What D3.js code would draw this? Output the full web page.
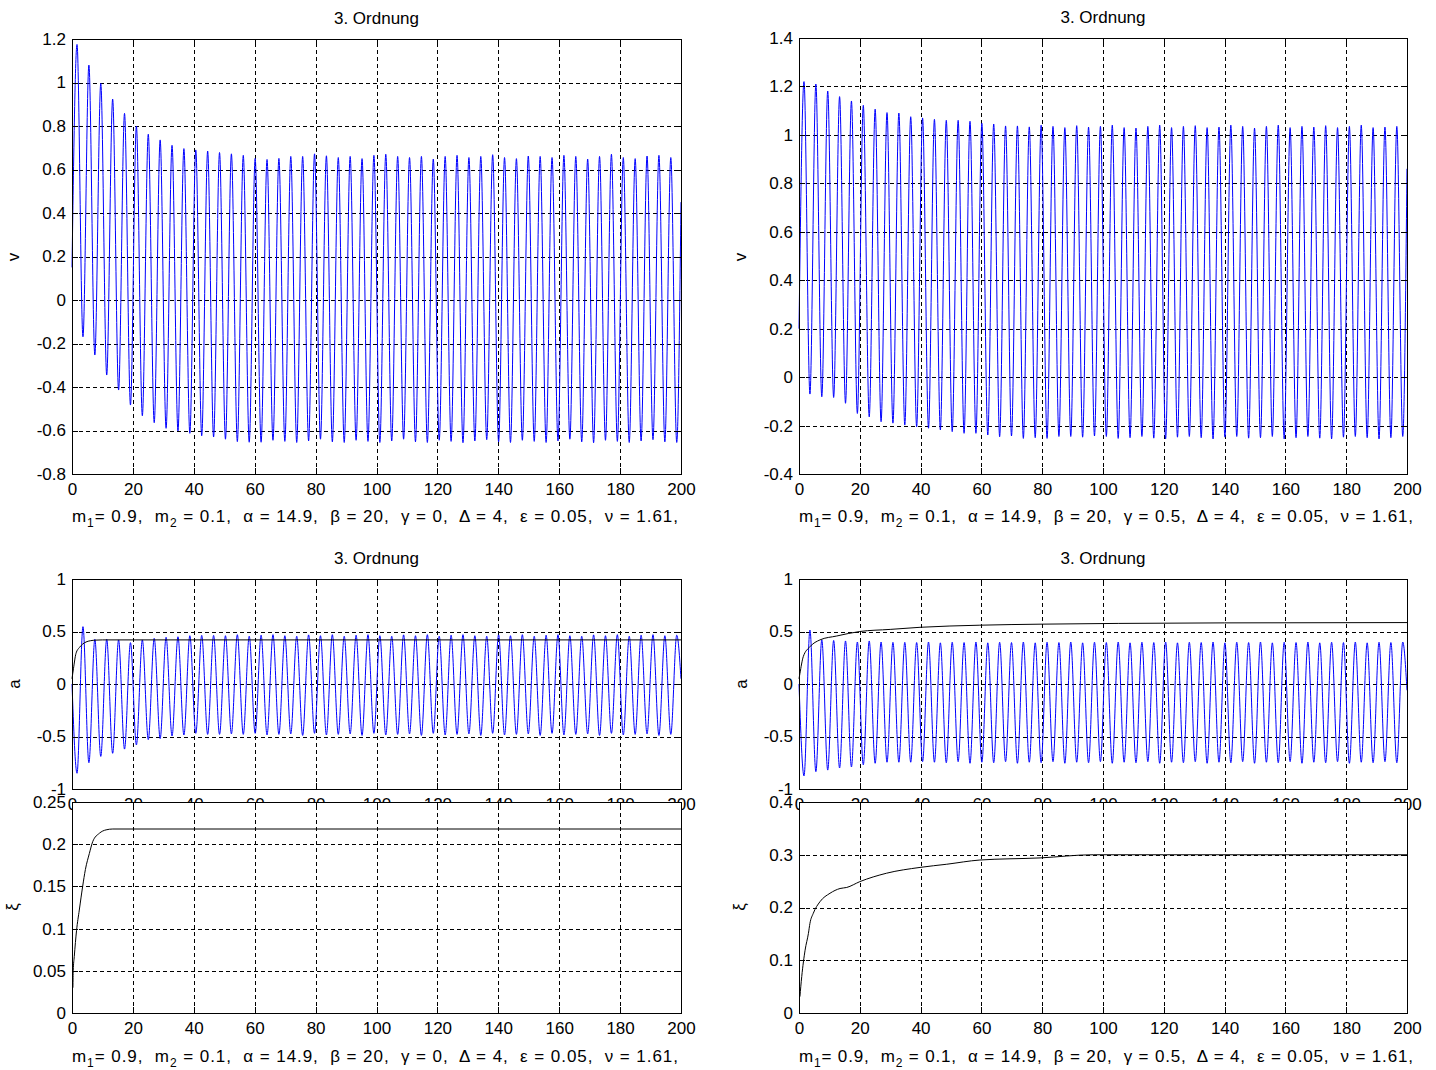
<!DOCTYPE html>
<html>
<head>
<meta charset="utf-8">
<script src="https://cdn.jsdelivr.net/npm/d3@7"></script>
<style>
body { margin: 0; background: #fff; }
svg text { font-family: "Liberation Sans", Arial, sans-serif; fill: #000; }
.grid line { stroke: #000; stroke-dasharray: 4,3; shape-rendering: crispEdges; }
.grid path { display: none; }
.ticks line { stroke: #000; shape-rendering: crispEdges; }
.ticks path { display: none; }
</style>
</head>
<body>
<svg id="chart"></svg>
<script>
//ticks
const xTicks = [0, 20, 40, 60, 80, 100, 120, 140, 160, 180, 200];
const vLeftTicks = [-0.8, -0.6, -0.4, -0.2, 0, 0.2, 0.4, 0.6, 0.8, 1, 1.2];
const vRightTicks = [-0.4, -0.2, 0, 0.2, 0.4, 0.6, 0.8, 1, 1.2, 1.4];
const aTicks = [-1, -0.5, 0, 0.5, 1];
const xiLeftTicks = [0, 0.05, 0.1, 0.15, 0.2, 0.25];
const xiRightTicks = [0, 0.1, 0.2, 0.3, 0.4];

//texts
const titleText = "3. Ordnung";
const gammaValues = ["0", "0.5"];

//times of the extrema of the oscillations
const extremaT = [
    1.65, 3.6, 5.55, 7.5, 9.45, 11.4, 13.35, 15.3, 17.25, 19.2,
    21.15, 23.1, 25.05, 27, 28.95, 30.9, 32.85, 34.8, 36.75, 38.7,
    40.65, 42.6, 44.55, 46.5, 48.45, 50.4, 52.35, 54.3, 56.25, 58.2,
    60.15, 62.1, 64.05, 66, 67.95, 69.9, 71.85, 73.8, 75.75, 77.7,
    79.65, 81.6, 83.55, 85.5, 87.45, 89.4, 91.35, 93.3, 95.25, 97.2,
    99.15, 101.1, 103.05, 105, 106.95, 108.9, 110.85, 112.8, 114.75, 116.7,
    118.65, 120.6, 122.55, 124.5, 126.45, 128.4, 130.35, 132.3, 134.25, 136.2,
    138.15, 140.1, 142.05, 144, 145.95, 147.9, 149.85, 151.8, 153.75, 155.7,
    157.65, 159.6, 161.55, 163.5, 165.45, 167.4, 169.35, 171.3, 173.25, 175.2,
    177.15, 179.1, 181.05, 183, 184.95, 186.9, 188.85, 190.8, 192.75, 194.7,
    196.65, 198.6
];

//v, gamma = 0
const vLeftPeaks = [
    1.175, 1.08, 0.996, 0.924, 0.858, 0.80, 0.762, 0.736, 0.711, 0.696,
    0.69, 0.685, 0.678, 0.672, 0.665, 0.651, 0.646, 0.651, 0.66, 0.66,
    0.672, 0.663, 0.655, 0.66, 0.65, 0.665, 0.67, 0.66, 0.655, 0.66,
    0.648, 0.66, 0.665, 0.655, 0.66, 0.668, 0.655, 0.65, 0.662, 0.66,
    0.655, 0.665, 0.66, 0.648, 0.66, 0.67, 0.655, 0.65, 0.662, 0.665,
    0.655
];
const vLeftTroughs = [
    -0.169, -0.253, -0.345, -0.414, -0.483, -0.532, -0.564, -0.59, -0.602, -0.613,
    -0.624, -0.63, -0.64, -0.651, -0.654, -0.654, -0.645, -0.65, -0.655, -0.648,
    -0.64, -0.652, -0.655, -0.645, -0.65, -0.655, -0.648, -0.64, -0.652, -0.655,
    -0.645, -0.65, -0.656, -0.648, -0.642, -0.652, -0.655, -0.645, -0.65, -0.655,
    -0.648, -0.64, -0.652, -0.656, -0.645, -0.65, -0.655, -0.648, -0.642, -0.652,
    -0.655
];
const vLeftEnds = [0.15, 0.45];

//v, gamma = 0.5
const vRightPeaks = [
    1.22, 1.21, 1.181, 1.158, 1.14, 1.122, 1.106, 1.092, 1.09, 1.075,
    1.07, 1.064, 1.06, 1.06, 1.056, 1.048, 1.045, 1.037, 1.037, 1.033,
    1.04, 1.035, 1.03, 1.038, 1.032, 1.035, 1.04, 1.03, 1.028, 1.035,
    1.04, 1.03, 1.035, 1.038, 1.03, 1.032, 1.04, 1.035, 1.028, 1.035,
    1.04, 1.03, 1.035, 1.032, 1.038, 1.03, 1.035, 1.04, 1.03, 1.032,
    1.035
];
const vRightTroughs = [
    -0.07, -0.081, -0.084, -0.108, -0.15, -0.164, -0.184, -0.19, -0.198, -0.205,
    -0.211, -0.218, -0.225, -0.232, -0.232, -0.239, -0.246, -0.243, -0.253, -0.25,
    -0.253, -0.245, -0.245, -0.248, -0.243, -0.245, -0.253, -0.25, -0.245, -0.252,
    -0.255, -0.248, -0.245, -0.25, -0.255, -0.248, -0.245, -0.252, -0.25, -0.245,
    -0.255, -0.25, -0.245, -0.252, -0.255, -0.248, -0.245, -0.25, -0.255, -0.25,
    -0.245
];
const vRightEnds = [0.2, 0.86];

//a, gamma = 0 (troughs come first)
const aLeftTroughs = [
    -0.85, -0.75, -0.69, -0.66, -0.62, -0.58, -0.53, -0.52, -0.495, -0.486,
    -0.47, -0.48, -0.48, -0.475, -0.48, -0.47, -0.485, -0.48, -0.475, -0.49,
    -0.47, -0.485, -0.48, -0.475, -0.49, -0.47, -0.485, -0.48, -0.475, -0.49,
    -0.47, -0.485, -0.48, -0.475, -0.49, -0.47, -0.485, -0.48, -0.475, -0.49,
    -0.47, -0.485, -0.48, -0.475, -0.49, -0.47, -0.485, -0.48, -0.475, -0.49,
    -0.48
];
const aLeftPeaks = [
    0.546, 0.426, 0.426, 0.42, 0.394, 0.42, 0.435, 0.445, 0.45, 0.46,
    0.463, 0.463, 0.46, 0.47, 0.455, 0.465, 0.47, 0.46, 0.455, 0.468,
    0.46, 0.47, 0.455, 0.465, 0.47, 0.46, 0.455, 0.468, 0.46, 0.47,
    0.455, 0.465, 0.47, 0.46, 0.455, 0.468, 0.46, 0.47, 0.455, 0.465,
    0.47, 0.46, 0.455, 0.468, 0.46, 0.47, 0.455, 0.465, 0.47, 0.46,
    0.465
];
const aLeftEnds = [0, 0.05];
const aLeftEnvT = [0, 0.5, 1.3, 2.5, 3.5, 4.6, 6, 7.9, 10, 200];
const aLeftEnvV = [0.05, 0.15, 0.29, 0.35, 0.38, 0.40, 0.412, 0.418, 0.42, 0.42];

//a, gamma = 0.5
const aRightTroughs = [
    -0.876, -0.835, -0.82, -0.80, -0.79, -0.77, -0.755, -0.745, -0.745, -0.745,
    -0.74, -0.745, -0.75, -0.74, -0.755, -0.745, -0.75, -0.74, -0.755, -0.745,
    -0.75, -0.74, -0.755, -0.745, -0.75, -0.74, -0.755, -0.745, -0.75, -0.74,
    -0.755, -0.745, -0.75, -0.74, -0.755, -0.745, -0.75, -0.74, -0.755, -0.745,
    -0.75, -0.74, -0.755, -0.745, -0.75, -0.74, -0.755, -0.745, -0.75, -0.74,
    -0.75
];
const aRightPeaks = [
    0.514, 0.42, 0.415, 0.41, 0.40, 0.41, 0.40, 0.397, 0.397, 0.395,
    0.4, 0.392, 0.398, 0.395, 0.4, 0.392, 0.398, 0.395, 0.4, 0.392,
    0.398, 0.395, 0.4, 0.392, 0.398, 0.395, 0.4, 0.392, 0.398, 0.395,
    0.4, 0.392, 0.398, 0.395, 0.4, 0.392, 0.398, 0.395, 0.4, 0.392,
    0.398, 0.395, 0.4, 0.392, 0.398, 0.395, 0.4, 0.392, 0.398, 0.395,
    0.4
];
const aRightEnds = [0, -0.06];
const aRightEnvT = [0, 0.3, 1.4, 3.6, 6.9, 12.4, 20, 30, 39.8, 59.5, 80, 105, 140, 200];
const aRightEnvV = [0.05, 0.1, 0.26, 0.355, 0.42, 0.457, 0.50, 0.52, 0.54, 0.56, 0.57, 0.577, 0.582, 0.585];

//xi
const xiLeftT = [0.3, 0.4, 0.75, 1.5, 2.4, 3.5, 4.4, 5.7, 6.8, 9.0, 11.2, 13.4, 200];
const xiLeftV = [0.03, 0.05, 0.067, 0.098, 0.122, 0.15, 0.17, 0.189, 0.203, 0.213, 0.217, 0.218, 0.218];
const xiRightT = [0.3, 0.9, 2.0, 3.1, 3.6, 4.7, 6.9, 10.2, 13.5, 15.7, 20, 28.8, 39.8, 48.6, 59.5, 79.3, 96.8, 120, 150, 200];
const xiRightV = [0.031, 0.069, 0.119, 0.151, 0.17, 0.189, 0.211, 0.227, 0.236, 0.238, 0.249, 0.265, 0.276, 0.282, 0.29, 0.294, 0.30, 0.30, 0.30, 0.30];

//helpers
function oscillation(peaks, troughs, ends, peaksFirst) {
    let pts = [[0, ends[0]]];
    extremaT.forEach((t, i) => {
        let k = Math.floor(i / 2);
        let isPeak = (i % 2 == 0) == peaksFirst;
        pts.push([t, isPeak ? peaks[k] : troughs[k]]);
    });
    pts.push([200, ends[1]]);
    return pts;
}
const pairs = (t, v) => t.map((d, i) => [d, v[i]]);
const fmt = d => String(+d.toFixed(2));

//canvas
const svg = d3.select("#chart")
    .attr("width", 1436)
    .attr("height", 1070);

svg.append("rect")
    .attr("width", 1436)
    .attr("height", 1070)
    .attr("fill", "#fff");

//one axes box
function drawPanel(box, yDomain, yTicks, series) {
    let w = box.right - box.left;
    let h = box.bottom - box.top;

    let xScale = d3.scaleLinear().domain([0, 200]).range([box.left, box.right]);
    let yScale = d3.scaleLinear().domain(yDomain).range([box.bottom, box.top]);

    let g = svg.append("g");

    g.append("rect")
        .attr("x", box.left)
        .attr("y", box.top)
        .attr("width", w)
        .attr("height", h)
        .attr("fill", "#fff");

    //grid
    g.append("g")
        .attr("class", "grid")
        .attr("transform", "translate(0," + box.bottom + ")")
        .call(d3.axisBottom(xScale).tickValues(xTicks.slice(1, -1)).tickSize(-h).tickFormat(""));

    g.append("g")
        .attr("class", "grid")
        .attr("transform", "translate(" + box.left + ",0)")
        .call(d3.axisLeft(yScale).tickValues(yTicks.slice(1, -1)).tickSize(-w).tickFormat(""));

    //curves
    series.forEach(s => {
        let line = d3.line()
            .x(d => xScale(d[0]))
            .y(d => yScale(d[1]))
            .curve(d3.curveMonotoneX);
        g.append("path")
            .datum(s.points)
            .attr("d", line)
            .attr("fill", "none")
            .attr("stroke", s.color)
            .attr("stroke-width", 1);
    });

    //ticks
    g.append("g")
        .attr("class", "ticks")
        .attr("transform", "translate(0," + box.bottom + ")")
        .call(d3.axisBottom(xScale).tickValues(xTicks).tickSize(-6).tickPadding(9).tickFormat(d3.format("d")))
        .attr("font-size", 17)
        .attr("font-family", null);

    g.append("g")
        .attr("class", "ticks")
        .attr("transform", "translate(0," + box.top + ")")
        .call(d3.axisTop(xScale).tickValues(xTicks).tickSize(-6).tickFormat(""));

    g.append("g")
        .attr("class", "ticks")
        .attr("transform", "translate(" + box.left + ",0)")
        .call(d3.axisLeft(yScale).tickValues(yTicks).tickSize(-6).tickPadding(6).tickFormat(fmt))
        .attr("font-size", 17)
        .attr("font-family", null);

    g.append("g")
        .attr("class", "ticks")
        .attr("transform", "translate(" + box.right + ",0)")
        .call(d3.axisRight(yScale).tickValues(yTicks).tickSize(-6).tickFormat(""));

    //frame
    g.append("rect")
        .attr("x", box.left + 0.5)
        .attr("y", box.top + 0.5)
        .attr("width", w)
        .attr("height", h)
        .attr("fill", "none")
        .attr("stroke", "#000")
        .attr("shape-rendering", "crispEdges");
}

function yLabel(x, y, txt) {
    svg.append("text")
        .attr("transform", "translate(" + x + "," + y + ") rotate(-90)")
        .attr("text-anchor", "middle")
        .attr("font-size", 17)
        .text(txt);
}

function title(x, y) {
    svg.append("text")
        .attr("x", x)
        .attr("y", y)
        .attr("text-anchor", "middle")
        .attr("font-size", 17)
        .text(titleText);
}

function xLabel(x, y, len, gamma) {
    let t = svg.append("text")
        .attr("x", x)
        .attr("y", y)
        .attr("font-size", 17)
        .attr("xml:space", "preserve")
        .style("white-space", "pre")
        .attr("textLength", len)
        .attr("lengthAdjust", "spacing");
    t.append("tspan").text("m");
    t.append("tspan").attr("dy", 5).attr("font-size", 12).text("1");
    t.append("tspan").attr("dy", -5).text("= 0.9,  m");
    t.append("tspan").attr("dy", 5).attr("font-size", 12).text("2");
    t.append("tspan").attr("dy", -5)
        .text(" = 0.1,  \u03b1 = 14.9,  \u03b2 = 20,  \u03b3 = " + gamma + ",  \u0394 = 4,  \u03b5 = 0.05,  \u03bd = 1.61,");
}

//layout
const L = {left: 72, right: 681};
const R = {left: 799, right: 1407};

//top row
drawPanel({left: L.left, right: L.right, top: 39, bottom: 474}, [-0.8, 1.2], vLeftTicks,
    [{points: oscillation(vLeftPeaks, vLeftTroughs, vLeftEnds, true), color: "#0000ff"}]);
drawPanel({left: R.left, right: R.right, top: 38, bottom: 474}, [-0.4, 1.4], vRightTicks,
    [{points: oscillation(vRightPeaks, vRightTroughs, vRightEnds, true), color: "#0000ff"}]);

//a rows
drawPanel({left: L.left, right: L.right, top: 579, bottom: 789}, [-1, 1], aTicks,
    [{points: oscillation(aLeftPeaks, aLeftTroughs, aLeftEnds, false), color: "#0000ff"},
     {points: pairs(aLeftEnvT, aLeftEnvV), color: "#000"}]);
drawPanel({left: L.left, right: L.right, top: 802, bottom: 1013}, [0, 0.25], xiLeftTicks,
    [{points: pairs(xiLeftT, xiLeftV), color: "#000"}]);

drawPanel({left: R.left, right: R.right, top: 579, bottom: 789}, [-1, 1], aTicks,
    [{points: oscillation(aRightPeaks, aRightTroughs, aRightEnds, false), color: "#0000ff"},
     {points: pairs(aRightEnvT, aRightEnvV), color: "#000"}]);
drawPanel({left: R.left, right: R.right, top: 802, bottom: 1013}, [0, 0.4], xiRightTicks,
    [{points: pairs(xiRightT, xiRightV), color: "#000"}]);

//titles
title((L.left + L.right) / 2, 24);
title((R.left + R.right) / 2, 23);
title((L.left + L.right) / 2, 564);
title((R.left + R.right) / 2, 564);

//axis labels
yLabel(19, 257, "v");
yLabel(746, 257, "v");
yLabel(20, 684, "a");
yLabel(747, 684, "a");
yLabel(18, 907, "\u03be");
yLabel(745, 907, "\u03be");

xLabel(L.left, 522, 606, gammaValues[0]);
xLabel(R.left, 522, 614, gammaValues[1]);
xLabel(L.left, 1062, 606, gammaValues[0]);
xLabel(R.left, 1062, 614, gammaValues[1]);
</script>
</body>
</html>
